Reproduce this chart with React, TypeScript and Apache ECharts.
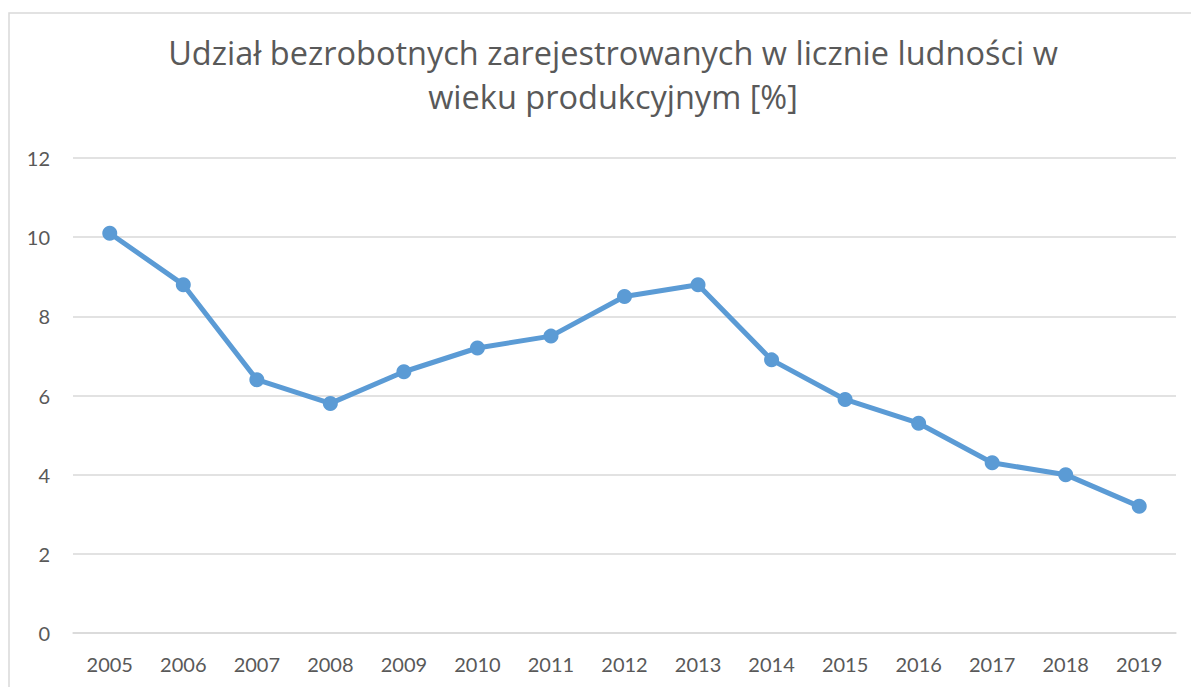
import React, { useEffect, useRef } from "react";
import * as echarts from "echarts";

const categories = ["2005","2006","2007","2008","2009","2010","2011","2012","2013","2014","2015","2016","2017","2018","2019"];
const values = [10.1, 8.8, 6.4, 5.8, 6.6, 7.2, 7.5, 8.5, 8.8, 6.9, 5.9, 5.3, 4.3, 4.0, 3.2];
const titleText = "Udział bezrobotnych zarejestrowanych w licznie ludności w\nwieku produkcyjnym [%]";

export default function App() {
  const ref = useRef<HTMLDivElement>(null);
  useEffect(() => {
    if (!ref.current) return;
    const chart = echarts.init(ref.current, null, { renderer: "svg" });
    const font = "Lato, 'Open Sans', sans-serif";
    chart.setOption({
      animation: false,
      backgroundColor: "#ffffff",
      title: {
        text: titleText,
        left: 608,
        top: 25,
        textAlign: "center",
        textStyle: { fontFamily: "'Open Sans', sans-serif", fontSize: 32.5, fontWeight: "normal", color: "#595959", lineHeight: 44 },
      },
      graphic: [
        { type: "rect", shape: { x: 9, y: 13, width: 1200, height: 700 }, style: { fill: "none", stroke: "#d9d9d9", lineWidth: 1.5 }, silent: true },
      ],
      grid: { left: 73, right: 15, top: 158, bottom: 54 },
      xAxis: {
        type: "category",
        data: categories,
        boundaryGap: true,
        axisLine: { show: true, lineStyle: { color: "#d9d9d9", width: 1.5 } },
        axisTick: { show: false },
        axisLabel: { color: "#595959", fontFamily: font, fontSize: 20, margin: 21 },
      },
      yAxis: {
        type: "value",
        min: 0,
        max: 12,
        interval: 2,
        axisLine: { show: false },
        axisTick: { show: false },
        splitLine: { lineStyle: { color: "#d9d9d9", width: 1.5 } },
        axisLabel: { color: "#595959", fontFamily: font, fontSize: 20, margin: 23 },
      },
      series: [
        {
          type: "line",
          data: values,
          symbol: "circle",
          symbolSize: 15,
          lineStyle: { color: "#5B9BD5", width: 5 },
          itemStyle: { color: "#5B9BD5" },
        },
      ],
    });
    return () => chart.dispose();
  }, []);
  return <div ref={ref} style={{ position: "fixed", left: 0, top: 0, width: 1191, height: 687 }} />;
}
